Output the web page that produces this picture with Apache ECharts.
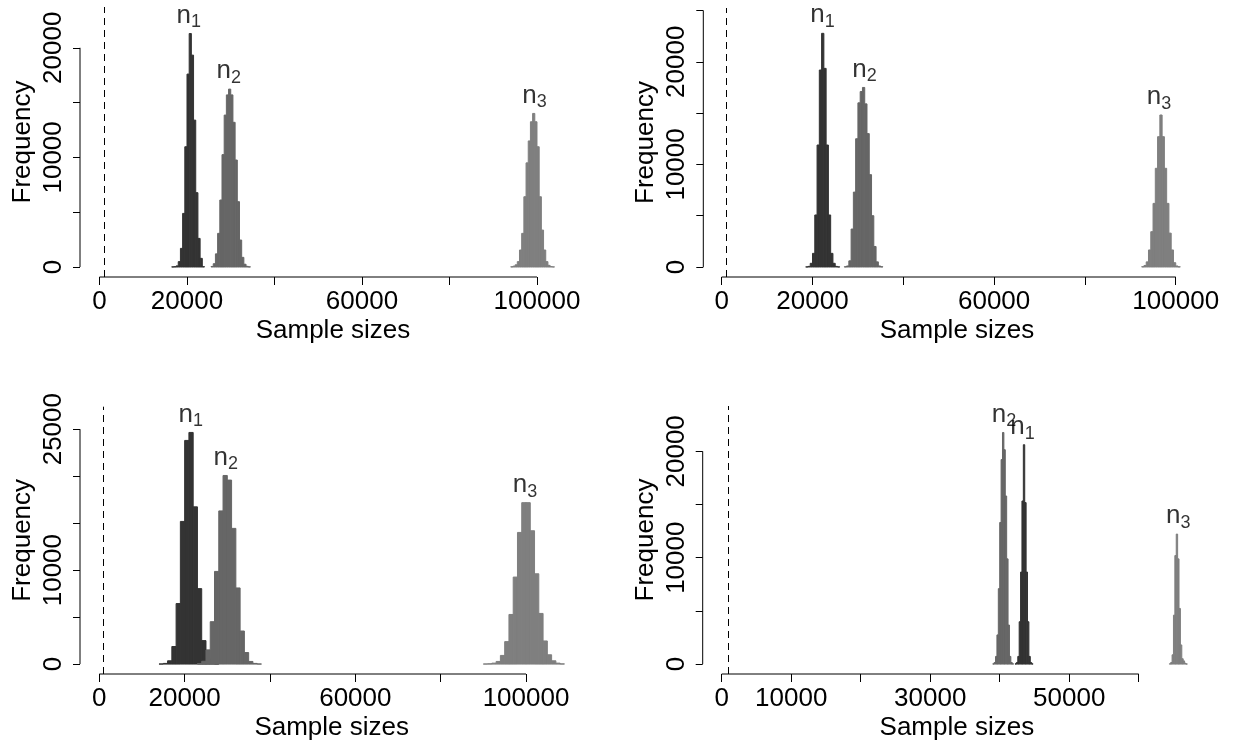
<!DOCTYPE html>
<html>
<head>
<meta charset="utf-8">
<script src="https://cdn.jsdelivr.net/npm/echarts@6/dist/echarts.min.js"></script>
<style>html,body{margin:0;padding:0;background:#fff}#c{width:1235px;height:742px}</style>
</head>
<body>
<div id="c"></div>
<script>
// ---------------- data ----------------
const cutoff = 1000;
const seriesNames = ['n1', 'n2', 'n3'];

// Panel 1 (top-left), bin width 500
const p1Bin = 500;
const p1n1Start = 16500;
const p1n1Counts = [10, 30, 100, 490, 1700, 4890, 10970, 17600, 21300, 19330, 13400, 6780, 2610, 790, 30];
const p1n2Start = 25500;
const p1n2Counts = [50, 300, 1200, 3070, 6110, 10250, 13860, 15700, 16230, 15700, 13200, 9760, 5960, 2460, 880, 250, 60, 15];
const p1n3Start = 94000;
const p1n3Counts = [20, 80, 200, 490, 1550, 3070, 6410, 9500, 11500, 13250, 14010, 13250, 10970, 6410, 3370, 1550, 490, 150, 40, 10];
const p1LabelX = [20400, 29560, 99430];
const p1XTicks = [0, 20000, 40000, 60000, 80000, 100000];
const p1XLabels = [0, 20000, 60000, 100000];
const p1YTicks = [0, 5000, 10000, 15000, 20000];
const p1YLabels = [0, 10000, 20000];

// Panel 2 (top-right), bin width 500
const p2Bin = 500;
const p2n1Start = 18500;
const p2n1Counts = [10, 60, 360, 1330, 5070, 11890, 19200, 22775, 19360, 11890, 5070, 1330, 360, 60, 10];
const p2n2Start = 27000;
const p2n2Counts = [20, 100, 600, 3700, 7300, 12500, 16000, 17100, 17500, 15900, 13000, 9000, 5000, 2000, 500, 100, 20];
const p2n3Start = 92500;
const p2n3Counts = [30, 150, 500, 1660, 3440, 6200, 9620, 12700, 14815, 12700, 9620, 6200, 3300, 1660, 420, 100, 20];
const p2LabelX = [22200, 31450, 96300];
const p2XTicks = [0, 20000, 40000, 60000, 80000, 100000];
const p2XLabels = [0, 20000, 60000, 100000];
const p2YTicks = [0, 5000, 10000, 15000, 20000, 25000];
const p2YLabels = [0, 10000, 20000];

// Panel 3 (bottom-left), bin width 1000
const p3Bin = 1000;
const p3n1Start = 14000;
const p3n1Counts = [10, 70, 350, 1870, 6440, 15180, 23800, 24650, 16730, 8030, 2500, 600, 100, 20];
const p3n2Start = 23000;
const p3n2Counts = [50, 300, 1510, 4510, 9860, 16300, 20070, 19580, 14440, 8100, 3520, 1230, 280, 70, 10];
const p3n3Start = 90000;
const p3n3Counts = [10, 30, 100, 280, 920, 2390, 5280, 9260, 14010, 17180, 17180, 14190, 9610, 5390, 2460, 990, 350, 100, 20];
const p3LabelX = [21450, 29650, 99760];
const p3XTicks = [0, 20000, 40000, 60000, 80000, 100000];
const p3XLabels = [0, 20000, 60000, 100000];
const p3YTicks = [0, 5000, 10000, 15000, 20000, 25000];
const p3YLabels = [0, 10000, 25000];

// Panel 4 (bottom-right), bin width 200
const p4Bin = 200;
const p4n1Start = 42200;
const p4n1Counts = [20, 150, 720, 3980, 8650, 15330, 20620, 15180, 8650, 3980, 720, 150, 20];
const p4n2Start = 39000;
const p4n2Counts = [20, 150, 720, 2740, 7090, 13310, 19220, 21770, 20150, 15800, 9890, 3670, 720, 150, 20];
const p4n3Start = 64400;
const p4n3Counts = [20, 150, 870, 4600, 10200, 12220, 9890, 5230, 1800, 500, 300, 80, 10];
const p4LabelX = [43280, 40620, 65700];
const p4XTicks = [0, 10000, 20000, 30000, 40000, 50000, 60000];
const p4XLabels = [0, 10000, 30000, 50000];
const p4YTicks = [0, 5000, 10000, 15000, 20000];
const p4YLabels = [0, 10000, 20000];

// ---------------- layout / style ----------------
const FONT = "'Liberation Sans', Arial, Helvetica, sans-serif";
const FS = 26;
const colors = ['#333333', '#666666', '#7f7f7f'];

const panels = [
  {grid: {left: 80, top: 7, width: 506, height: 270}, x: [-4457, 111200], y: [-912, 23720],
   bin: p1Bin, hist: [[p1n1Start, p1n1Counts], [p1n2Start, p1n2Counts], [p1n3Start, p1n3Counts]],
   labelX: p1LabelX, xTicks: p1XTicks, xLabels: p1XLabels, yTicks: p1YTicks, yLabels: p1YLabels},
  {grid: {left: 703.3, top: 8, width: 507.4, height: 269}, x: [-4053, 107700], y: [-975, 25244],
   bin: p2Bin, hist: [[p2n1Start, p2n1Counts], [p2n2Start, p2n2Counts], [p2n3Start, p2n3Counts]],
   labelX: p2LabelX, xTicks: p2XTicks, xLabels: p2XLabels, yTicks: p2YTicks, yLabels: p2YLabels},
  {grid: {left: 80, top: 406.7, width: 503.4, height: 269.3}, x: [-4523, 113450], y: [-1056, 27390],
   bin: p3Bin, hist: [[p3n1Start, p3n1Counts], [p3n2Start, p3n2Counts], [p3n3Start, p3n3Counts]],
   labelX: p3LabelX, xTicks: p3XTicks, xLabels: p3XLabels, yTicks: p3YTicks, yLabels: p3YLabels},
  {grid: {left: 702.7, top: 406, width: 508.3, height: 270}, x: [-2734, 70400], y: [-933, 24260],
   bin: p4Bin, hist: [[p4n1Start, p4n1Counts], [p4n2Start, p4n2Counts], [p4n3Start, p4n3Counts]],
   labelX: p4LabelX, xTicks: p4XTicks, xLabels: p4XLabels, yTicks: p4YTicks, yLabels: p4YLabels}
];

const grids = [], xAxes = [], yAxes = [], series = [];
const textStyle = {fontFamily: FONT, fontSize: FS, color: '#000'};
const plain = v => String(Math.round(v));

panels.forEach((p, gi) => {
  grids.push(Object.assign({containLabel: false}, p.grid));
  xAxes.push({
    gridIndex: gi, type: 'value', min: p.x[0], max: p.x[1],
    axisLine: {show: false, onZero: false},
    splitLine: {show: false},
    axisTick: {show: true, customValues: p.xTicks, length: 8, lineStyle: {color: '#000', width: 1}},
    axisLabel: Object.assign({customValues: p.xLabels, margin: 12, formatter: plain}, textStyle),
    name: 'Sample sizes', nameLocation: 'middle', nameGap: 41,
    nameTextStyle: textStyle
  });
  yAxes.push({
    gridIndex: gi, type: 'value', min: p.y[0], max: p.y[1],
    axisLine: {show: false, onZero: false},
    splitLine: {show: false},
    axisTick: {show: true, customValues: p.yTicks, length: 7, lineStyle: {color: '#000', width: 1}},
    axisLabel: Object.assign({customValues: p.yLabels, margin: 13, rotate: 90, formatter: plain}, textStyle),
    name: 'Frequency', nameLocation: 'middle', nameGap: 44, nameRotate: 90,
    nameTextStyle: textStyle
  });

  // histograms
  p.hist.forEach((h, k) => {
    const start = h[0], counts = h[1];
    const col = colors[k];
    series.push({
      type: 'custom', name: seriesNames[k], xAxisIndex: gi, yAxisIndex: gi,
      silent: true, animation: false, clip: false,
      encode: {x: [0, 1], y: 2},
      data: counts.map((c, i) => [start + i * p.bin, start + (i + 1) * p.bin, c]),
      renderItem: (params, api) => {
        const a = api.coord([api.value(0), api.value(2)]);
        const b = api.coord([api.value(1), 0]);
        return {type: 'rect', shape: {x: a[0], y: a[1], width: b[0] - a[0], height: b[1] - a[1]},
                style: {fill: col, stroke: col, lineWidth: 1}};
      }
    });
  });

  // labels n1, n2, n3 above each peak
  p.hist.forEach((h, k) => {
    const peak = Math.max.apply(null, h[1]);
    series.push({
      type: 'scatter', xAxisIndex: gi, yAxisIndex: gi, silent: true, animation: false,
      symbolSize: 0.01, itemStyle: {color: 'rgba(0,0,0,0)'},
      data: [[p.labelX[k], peak]],
      label: {
        show: true, position: 'top', distance: 5, color: '#000',
        formatter: '{n|n}{s|' + (k + 1) + '}',
        rich: {
          n: {fontFamily: FONT, fontSize: FS, color: '#000', lineHeight: 26, verticalAlign: 'top'},
          s: {fontFamily: FONT, fontSize: 18, color: '#000', lineHeight: 18, verticalAlign: 'top', padding: [11, 0, 0, 0]}
        }
      }
    });
  });

  // R-style axis lines spanning first to last tick + dashed cutoff line
  series.push({
    type: 'line', xAxisIndex: gi, yAxisIndex: gi, silent: true, animation: false,
    symbol: 'none', clip: false,
    lineStyle: {color: '#000', width: 1},
    data: [[p.xTicks[0], p.y[0]], [p.xTicks[p.xTicks.length - 1], p.y[0]]],
    markLine: {
      symbol: 'none', silent: true, animation: false,
      label: {show: false},
      lineStyle: {type: [7, 5], color: '#000', width: 1},
      data: [{xAxis: cutoff}]
    }
  });
  series.push({
    type: 'line', xAxisIndex: gi, yAxisIndex: gi, silent: true, animation: false,
    symbol: 'none', clip: false,
    lineStyle: {color: '#000', width: 1},
    data: [[p.x[0], p.yTicks[0]], [p.x[0], p.yTicks[p.yTicks.length - 1]]]
  });
});

const chart = echarts.init(document.getElementById('c'), null, {renderer: 'canvas'});
chart.setOption({
  animation: false,
  backgroundColor: '#fff',
  grid: grids, xAxis: xAxes, yAxis: yAxes, series: series
});
</script>
</body>
</html>
